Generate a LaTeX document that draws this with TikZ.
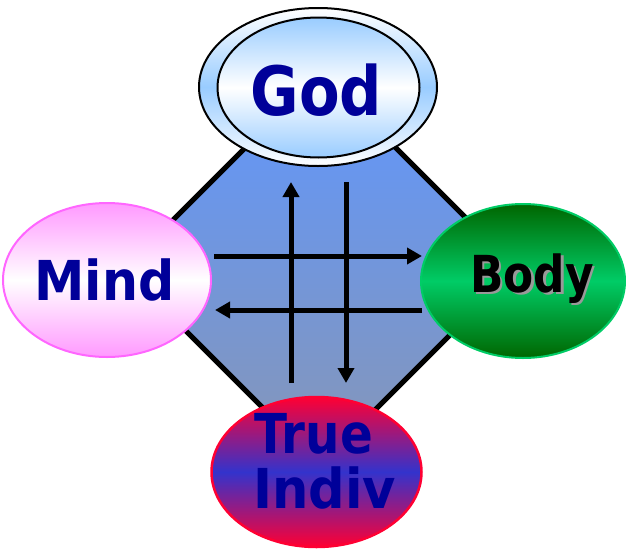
\documentclass[tikz,border=0pt]{standalone}
\usepackage{fontspec}
\setmainfont{DejaVu Sans}
\usetikzlibrary{shapes.geometric,arrows.meta}
\definecolor{txtblue}{HTML}{000099}
\definecolor{godblue}{HTML}{99CCFF}
\definecolor{mindpink}{HTML}{FF99FF}
\definecolor{mindedge}{HTML}{FF66FF}
\definecolor{bodydark}{HTML}{006600}
\definecolor{bodylight}{HTML}{00CC66}
\definecolor{truered}{HTML}{FF0033}
\definecolor{trueblue}{HTML}{3333CC}
\definecolor{octtop}{RGB}{100,150,245}
\definecolor{octbot}{RGB}{130,150,190}
\begin{document}
\begin{tikzpicture}[x=1pt,y=-1pt,
  oval/.style={ellipse,inner sep=0pt,line width=2pt},
  lbl/.style={inner sep=0pt,font=\bfseries},
  flow/.style={line width=5pt,-{Triangle[length=15pt,width=16pt]}}]
\useasboundingbox (0,0) rectangle (626,549);
% octagon
\path[draw=black,line width=5pt,line join=miter,top color=octtop,bottom color=octbot]
  (268,125) -- (373,125) -- (490,242) -- (490,295) -- (365,420) -- (275,420)
  -- (150,295) -- (150,243) -- cycle;
% arrows
\coordinate (upS) at (291,383); \coordinate (upE) at (291,182);
\coordinate (dnS) at (346,182); \coordinate (dnE) at (346,383);
\coordinate (rtS) at (214,256); \coordinate (rtE) at (422,256);
\coordinate (ltS) at (422,310); \coordinate (ltE) at (215,310);
\draw[flow] (upS) -- (upE);
\draw[flow] (dnS) -- (dnE);
\draw[flow] (rtS) -- (rtE);
\draw[flow] (ltS) -- (ltE);
% God
\node[oval,draw=black,minimum width=238pt,minimum height=158pt,
  top color=white,bottom color=white,middle color=godblue] (godout) at (318,87) {};
\node[oval,draw=black,minimum width=202pt,minimum height=140pt,
  top color=godblue,bottom color=godblue,middle color=white] (godin) at (318.5,87.5) {};
\node[lbl,anchor=base,text=txtblue,font=\bfseries\fontsize{68}{68}\selectfont] (godt) at (316.5,115) {\scalebox{0.87}[1]{God}};
% Mind
\node[oval,draw=mindedge,minimum width=208pt,minimum height=154pt,
  top color=mindpink,bottom color=mindpink,middle color=white] (mind) at (107,280) {};
\node[lbl,anchor=base,text=txtblue,font=\bfseries\fontsize{55}{55}\selectfont] (mindt) at (104.5,300) {\scalebox{0.92}[1]{Mind}};
% Body
\node[oval,draw=bodylight,minimum width=204pt,minimum height=154pt,
  top color=bodydark,bottom color=bodydark,middle color=bodylight] (body) at (523,281) {};
\node[lbl,anchor=base,text=black!40,font=\bfseries\fontsize{51}{51}\selectfont] (bodys) at (534.5,294.5) {\scalebox{0.86}[1]{Body}};
\node[lbl,anchor=base,text=black,font=\bfseries\fontsize{51}{51}\selectfont] (bodyt) at (532,292) {\scalebox{0.86}[1]{Body}};
% True Indiv
\node[oval,draw=truered,line width=2.5pt,minimum width=210pt,minimum height=150pt,
  top color=truered,bottom color=truered,middle color=trueblue] (true) at (316.5,472) {};
\node[lbl,anchor=base west,text=txtblue,font=\bfseries\fontsize{55}{55}\selectfont] (truet) at (254,453) {\scalebox{0.88}[1]{True}};
\node[lbl,anchor=base west,text=txtblue,font=\bfseries\fontsize{55}{55}\selectfont] (indivt) at (253,508) {\scalebox{0.93}[1]{Indiv}};
\end{tikzpicture}
\end{document}
